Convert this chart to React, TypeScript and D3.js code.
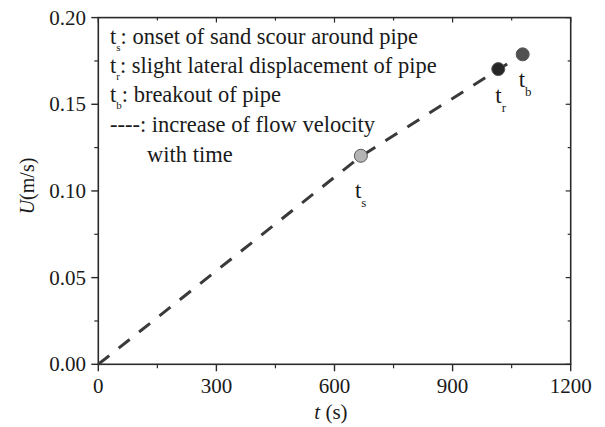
import React from "react";
import * as d3 from "d3";

const lineT = [0, 667, 1016, 1078];
const lineU = [0, 0.12, 0.17, 0.179];

const pointNames = ["s", "r", "b"];
const pointT = [667, 1016, 1078];
const pointU = [0.1203, 0.1703, 0.1788];
const pointFill = ["#b4b4b4", "#262626", "#505050"];

const xTicks = [0, 300, 600, 900, 1200];
const xMinor = [150, 450, 750, 1050];
const yTicks = [0, 0.05, 0.1, 0.15, 0.2];
const yMinor = [0.025, 0.075, 0.125, 0.175];

const legendSubs = ["s", "r", "b"];
const legendTexts = [
  ": onset of sand scour around pipe",
  ": slight lateral displacement of pipe",
  ": breakout of pipe",
];

export default function App() {
  const W = 605, H = 427;
  const x = d3.scaleLinear().domain([0, 1200]).range([98.3, 570.7]);
  const y = d3.scaleLinear().domain([0, 0.2]).range([364.3, 17.6]);
  const line = d3
    .line<number>()
    .x((_, i) => x(lineT[i]))
    .y((d) => y(d));
  const ts = { fontFamily: "Liberation Serif, Tinos, Times New Roman, DejaVu Serif, serif" };
  const col = "#2a2a2a";
  const txt = "#1a1a1a";
  const [x0, x1] = x.range();
  const [y0, y1] = y.range();
  const labelOffsets = [
    { dx: -6, dy: 42 },
    { dx: -3, dy: 34 },
    { dx: -4, dy: 33 },
  ];
  const legendY = [44, 73, 102];
  const lf = 22.5;
  return (
    <svg
      width={W}
      height={H}
      style={{ position: "absolute", left: 0, top: 0, background: "#fff", ...ts }}
    >
      <rect x={0} y={0} width={W} height={H} fill="#fff" />
      <rect x={x0} y={y1} width={x1 - x0} height={y0 - y1} fill="none" stroke={col} strokeWidth={1.6} />
      {xTicks.map((t) => (
        <g key={"xt" + t}>
          <line x1={x(t)} x2={x(t)} y1={y0} y2={y0 + 7} stroke={col} strokeWidth={1.4} />
          <line x1={x(t)} x2={x(t)} y1={y1} y2={y1 + 5} stroke={col} strokeWidth={1.2} />
          <text x={x(t)} y={393} textAnchor="middle" fontSize={21} fill={txt} style={ts}>
            {t}
          </text>
        </g>
      ))}
      {xMinor.map((t) => (
        <g key={"xm" + t}>
          <line x1={x(t)} x2={x(t)} y1={y0} y2={y0 + 4} stroke={col} strokeWidth={1.2} />
          <line x1={x(t)} x2={x(t)} y1={y1} y2={y1 + 3} stroke={col} strokeWidth={1.2} />
        </g>
      ))}
      {yTicks.map((v) => (
        <g key={"yt" + v}>
          <line x1={x0 - 7} x2={x0} y1={y(v)} y2={y(v)} stroke={col} strokeWidth={1.4} />
          <line x1={x1 - 5} x2={x1} y1={y(v)} y2={y(v)} stroke={col} strokeWidth={1.2} />
          <text x={86} y={y(v) + 7} textAnchor="end" fontSize={21} fill={txt} style={ts}>
            {v.toFixed(2)}
          </text>
        </g>
      ))}
      {yMinor.map((v) => (
        <g key={"ym" + v}>
          <line x1={x0 - 4} x2={x0} y1={y(v)} y2={y(v)} stroke={col} strokeWidth={1.2} />
          <line x1={x1 - 3} x2={x1} y1={y(v)} y2={y(v)} stroke={col} strokeWidth={1.2} />
        </g>
      ))}
      <text x={331} y={419} textAnchor="middle" fontSize={21} fill={txt} style={ts}>
        <tspan fontStyle="italic">t</tspan> (s)
      </text>
      <text
        transform={`translate(34,186) rotate(-90)`}
        textAnchor="middle"
        fontSize={20}
        fill={txt}
        style={ts}
      >
        <tspan fontStyle="italic">U</tspan>(m/s)
      </text>
      <path
        d={line(lineU) || ""}
        fill="none"
        stroke="#3a3a3a"
        strokeWidth={3}
        strokeDasharray="14 12"
      />
      {pointT.map((t, i) => (
        <g key={"p" + i}>
          <circle cx={x(t)} cy={y(pointU[i])} r={6.5} fill={pointFill[i]} stroke="#555" strokeWidth={1} />
          <text x={x(t) + labelOffsets[i].dx} y={y(pointU[i]) + labelOffsets[i].dy} fontSize={23} fill={txt} style={ts}>
            t
            <tspan fontSize={13} dy={9}>
              {pointNames[i]}
            </tspan>
          </text>
        </g>
      ))}
      {legendTexts.map((s, i) => (
        <text key={"lg" + i} x={110} y={legendY[i]} fontSize={lf} fill={txt} style={ts}>
          t
          <tspan fontSize={11} dy={7}>
            {legendSubs[i]}
          </tspan>
          <tspan dy={-7}>{s}</tspan>
        </text>
      ))}
      <text x={110} y={132} fontSize={lf} fill={txt} style={ts}>
        ----: increase of flow velocity
      </text>
      <text x={147} y={162} fontSize={lf} fill={txt} style={ts}>
        with time
      </text>
    </svg>
  );
}
